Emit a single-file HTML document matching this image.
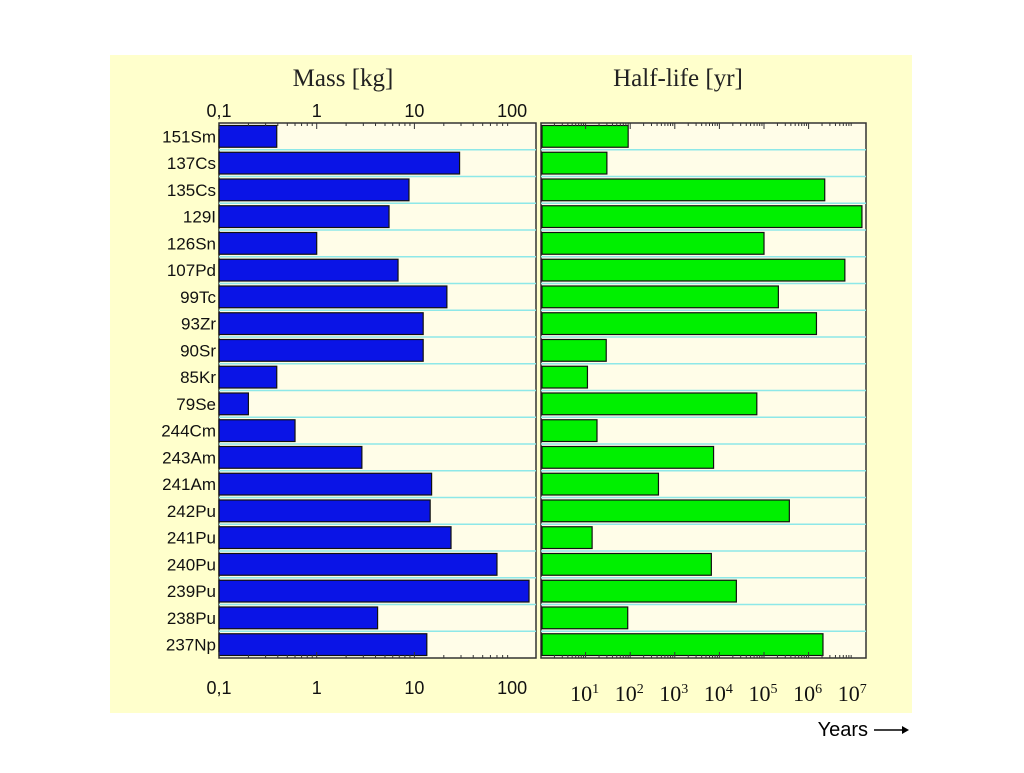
<!DOCTYPE html>
<html><head><meta charset="utf-8"><style>
body{margin:0;background:#fff;width:1024px;height:768px;overflow:hidden}
svg text{font-family:"Liberation Sans",sans-serif}
</style></head><body>
<svg id="c" width="1024" height="768">
<rect x="110" y="55" width="802" height="658" fill="#ffffcc"/>
<text x="343" y="86" font-size="25" text-anchor="middle" style="font-family:'Liberation Serif',serif" fill="#222">Mass [kg]</text>
<text x="678" y="86" font-size="25" text-anchor="middle" style="font-family:'Liberation Serif',serif" fill="#222">Half-life [yr]</text>
<text x="868" y="736" font-size="20" text-anchor="end" fill="#000">Years</text>
<line x1="874" y1="730" x2="902" y2="730" stroke="#000" stroke-width="1.5"/>
<polygon points="902,726 909,730 902,734" fill="#000"/>
<g id="g"></g>
</svg>
<script>
const nuclides=["151Sm","137Cs","135Cs","129I","126Sn","107Pd","99Tc","93Zr","90Sr","85Kr","79Se","244Cm","243Am","241Am","242Pu","241Pu","240Pu","239Pu","238Pu","237Np"];
const massKg=[0.39,29,8.8,5.5,1.0,6.8,21.5,12.3,12.3,0.39,0.2,0.6,2.9,15,14.5,23.7,70,149,4.2,13.4];
const halfLifeYr=[90,30,2.3e6,1.57e7,1e5,6.5e6,2.1e5,1.5e6,29,11,6.9e4,18,7400,430,3.7e5,14,6600,2.4e4,88,2.1e6];
const massTicks=["0,1","1","10","100"];
const hlTicks=["1","2","3","4","5","6","7"];
const NS="http://www.w3.org/2000/svg",g=document.getElementById('g');
function el(t,a,txt){const e=document.createElementNS(NS,t);for(const k in a)e.setAttribute(k,a[k]);if(txt!==undefined)e.textContent=txt;g.appendChild(e);return e;}
const yTop=123,yBot=658,rowH=(yBot-yTop)/nuclides.length;
const mx=v=>219+(Math.log10(v)+1)*97.7;
const hx=v=>541+Math.log10(v)*44.6;
const yRow=i=>yTop+i*rowH;
let e=el('rect',{x:219,y:yTop,width:317,height:yBot-yTop,fill:'#fffde8',stroke:'#333','stroke-width':1.5});


e=el('rect',{x:541,y:yTop,width:325,height:yBot-yTop,fill:'#fffde8',stroke:'#333','stroke-width':1.5});


for(let i=1;i<nuclides.length;i++){
 e=el('line',{x1:219,x2:536,y1:yRow(i),y2:yRow(i),stroke:'#8ee8e8','stroke-width':1.5});
 
 
 e=el('line',{x1:541,x2:866,y1:yRow(i),y2:yRow(i),stroke:'#8ee8e8','stroke-width':1.5});
 
 
}
nuclides.forEach((n,i)=>{
 const y=yRow(i)+2.5,h=rowH-5;
 e=el('rect',{x:219,y:y,width:mx(massKg[i])-219,height:h,fill:'#0a14e6',stroke:'#111','stroke-width':1.2});
 
 
 e=el('rect',{x:542,y:y,width:hx(halfLifeYr[i])-542,height:h,fill:'#00f000',stroke:'#111','stroke-width':1.2});
 
 
 e=el('text',{x:216,y:yRow(i)+rowH/2+6,'font-size':17,'text-anchor':'end',fill:'#111'},n);
 
 
});
massTicks.forEach((t,i)=>{
 const x=mx(Math.pow(10,i-1));
 e=el('text',{x:x,y:117,'font-size':18,'text-anchor':'middle',fill:'#111'},t);
 
 
 e=el('text',{x:x,y:694,'font-size':18,'text-anchor':'middle',fill:'#111'},t);
 
 
 for(let m=1;m<10&&i<3;m++){const tx=mx(Math.pow(10,i-1)*m),L=m==1?6:3;
  e=el('line',{x1:tx,x2:tx,y1:yTop,y2:yTop+L,stroke:'#333'});
  
  
  e=el('line',{x1:tx,x2:tx,y1:yBot,y2:yBot-L,stroke:'#333'});
  
  }
});
hlTicks.forEach((t,i)=>{
 const p=+t,x=hx(Math.pow(10,p));
 e=el('text',{x:x-1,y:701,'font-size':22,'text-anchor':'middle',style:"font-family:'Liberation Serif',serif",fill:'#111'});
 
 
 e.innerHTML='10<tspan dy="-8" font-size="14">'+t+'</tspan>';
 for(let m=1;m<10;m++){const tx=hx(Math.pow(10,p-1)*m),L=m==1?6:3;
  e=el('line',{x1:tx,x2:tx,y1:yTop,y2:yTop+L,stroke:'#333'});
  
  
  e=el('line',{x1:tx,x2:tx,y1:yBot,y2:yBot-L,stroke:'#333'});
  
  }
});
</script>
</body></html>
